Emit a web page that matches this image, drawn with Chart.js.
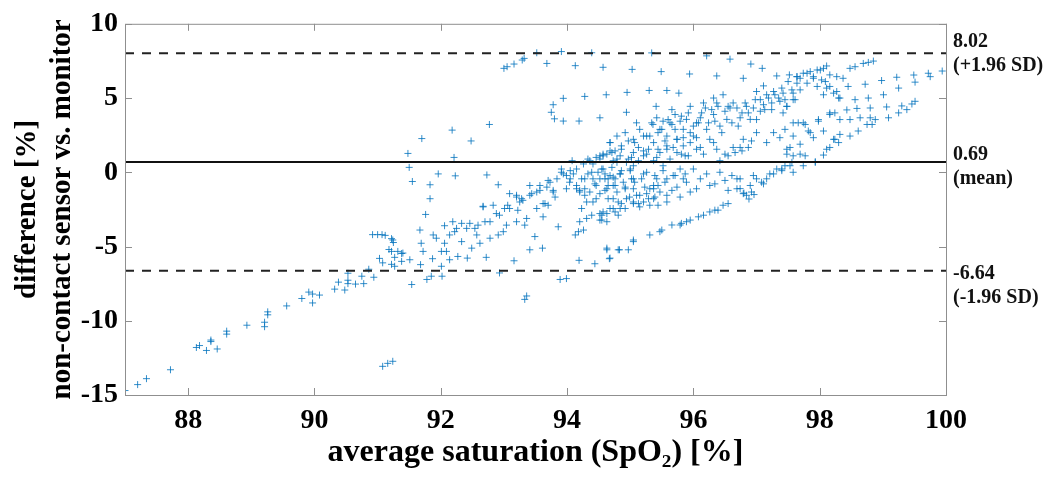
<!DOCTYPE html>
<html>
<head>
<meta charset="utf-8">
<script src="https://cdn.jsdelivr.net/npm/chart.js@4.4.1/dist/chart.umd.min.js"></script>
<style>
  body { margin: 0; background: #fff; }
</style>
</head>
<body>
<canvas id="baChart" width="1058" height="480"></canvas>
<script>
// Bland-Altman points: [average SpO2 %, difference %]
const tailPts = [
  [87.0,-14.7],[87.2,-14.3],[87.34,-13.9],[87.72,-13.3],[88.13,-11.8],[88.18,-11.67],[88.29,-12.0],
  [88.36,-11.3],[88.36,-11.4],[88.46,-11.9],[88.61,-10.7],[88.61,-10.9],[88.93,-10.3],[89.21,-10.1],
  [89.21,-10.4],[89.26,-9.4],[89.26,-9.6],[89.56,-9.0],[89.8,-8.5],[89.91,-8.07],[89.97,-8.2],
  [89.97,-8.8],[90.08,-8.27],[90.32,-7.87],[90.38,-7.4],[90.48,-7.93],[90.53,-6.8],[90.53,-7.27],
  [90.53,-7.5],[90.65,-7.53],[90.75,-7.0],[90.78,-7.5],[90.86,-6.53],[90.94,-7.07],[90.92,-4.2],
  [91.0,-4.2],[91.07,-4.2],[91.12,-4.25],[91.22,-4.47],[91.25,-4.73],[91.18,-5.2],[91.03,-5.8],
  [91.08,-6.1],[91.27,-5.73],[91.32,-5.33],[91.22,-6.2],[91.38,-5.47],[91.08,-13.07],[91.16,-12.87],
  [91.24,-12.73]
];

const upperPts = [
  [93.0,7.0],[93.05,7.11],[93.16,7.29],[93.29,7.56],[93.32,7.67],[93.52,8.05],[93.68,7.33],[93.91,8.13],
  [94.13,7.18],[94.39,8.05],[94.57,7.07],[95.03,6.93],[95.34,8.04],[95.49,6.78],[95.94,6.62],[96.21,7.84],
  [96.58,7.62],[96.37,6.49],[96.79,6.33],[96.91,7.29],[97.09,7.0],[97.11,5.82],[97.0,5.44],[97.32,6.49],
  [97.52,6.56],[97.64,6.44],
  [93.78,4.55],[93.75,4.04],[93.8,3.6],[93.94,4.98],[93.94,3.45],[94.19,3.45],[94.28,5.11],[94.52,3.67],
  [94.62,5.22],[94.95,5.38],[94.94,4.04],[95.3,5.51],[95.58,5.51],[95.41,4.44],[95.77,5.33],[96.32,5.0],
  [96.47,5.22],
  [91.7,2.27],[92.18,2.84],[92.48,2.11],[92.77,3.22],[91.48,1.27],[92.21,1.0],[91.5,0.33],[91.55,-0.62],
  [91.96,-0.11],[92.23,-0.24],[92.73,-0.18],[91.83,-0.84],[92.91,-0.84],[91.83,-1.78],[91.76,-2.84],
  [92.67,-2.29]
];

const lowerBand = [
  [91.24,-4.56],[91.22,-5.33],[91.4,-5.44],[91.38,-6.0],[91.27,-6.33],[91.51,-5.89],[91.54,-7.56],
  [91.67,-3.89],[91.69,-4.78],[91.72,-5.33],[91.68,-6.22],[91.78,-7.22],[91.85,-7.0],[91.87,-5.82],
  [91.93,-4.44],[92.01,-5.33],[92.01,-6.33],[92.02,-7.0],[92.06,-3.6],[92.06,-4.78],[92.14,-5.89],
  [92.19,-3.33],[92.22,-4.0],[92.27,-5.67],[92.33,-3.44],[92.41,-3.78],[92.42,-5.78],[92.46,-3.44],
  [92.49,-5.11],[92.59,-3.56],[92.62,-4.78],[92.67,-2.33],[92.7,-3.33],[92.72,-5.73],[92.78,-4.44],
  [92.83,-2.22],[92.88,-2.78],[92.91,-4.22],[92.93,-6.78],[93.01,-2.44],[93.04,-3.56],[93.06,-2.22],
  [93.09,-1.44],[93.16,-5.96],[93.2,-1.67],[93.22,-2.56],[93.28,-1.78],[93.33,-3.56],[93.36,-3.11],
  [93.36,-8.33],[93.33,-8.56],[93.41,-5.22],[93.41,-0.89],[93.44,-1.44],[93.52,-1.33],[93.49,-4.33],
  [93.62,-3.0],[93.61,-5.11],[93.65,-2.11],[93.7,-2.22],[93.73,-0.67],[93.78,-1.22],[93.81,-1.67],
  [93.86,-3.67],[93.89,-7.22],[93.99,-7.16],[93.91,0.0],[94.05,-0.44],[94.08,0.78],[94.13,-4.22],
  [94.18,-4.0],[94.2,-1.22],[94.23,-2.44],[94.26,-3.89],[94.19,-5.93],[94.28,-0.44],[94.31,-2.0],
  [94.33,-0.11],[94.36,-1.33],[94.39,-2.89],[94.41,0.56],[94.44,-6.16],[94.46,-0.89],[94.49,0.0],
  [94.52,-1.44],[94.55,-3.22],[94.57,1.11],[94.6,-0.44],[94.63,-5.11],[94.65,-1.78],[94.68,2.0],
  [94.68,-5.78],[94.71,0.33],[94.73,-0.89],[94.76,-2.67],[94.79,0.89],[94.81,-2.0],[94.83,-5.22],
  [92.25,-3.78],[92.14,-4.22],[92.54,-3.78],[92.78,-3.33],[92.93,-2.89],[93.09,-2.44],[93.25,-2.0],
  [93.41,-1.55],[93.57,-1.22],[93.68,-1.0],[93.84,-0.44],[93.94,-0.11],[94.05,0.11],[94.15,0.22],
  [94.26,0.56],[94.36,0.78],[94.46,1.0],[94.57,1.22],[94.68,1.44],[93.99,-1.11],[94.15,-0.89],
  [94.28,-1.11],[94.41,-0.44],[94.46,-1.78],[94.63,-1.11],[94.76,-0.44],[94.2,-3.33],[94.31,-3.11],
  [94.57,-2.67],[94.68,-2.44],[91.88,-4.22],[92.09,-5.33],[92.33,-4.67],[92.57,-4.22],[92.99,-4.0],
  [93.2,-3.33],[93.52,-2.44]
];

const coreUpper = [
  [94.68,2.0],[94.79,2.44],[94.92,2.67],[95.05,2.22],[95.15,2.89],[95.26,2.44],[95.36,3.22],[95.44,2.67],
  [95.52,3.44],[95.58,2.44],[95.66,3.22],[95.71,3.89],[95.74,2.22],[95.84,2.89],[95.89,3.56],[95.95,4.44],
  [96.0,2.44],[96.08,3.33],[96.13,4.0],[96.16,4.67],[96.21,2.89],[96.29,4.22],[96.34,3.44],[96.39,4.44],
  [96.45,2.67],[96.53,3.56],[96.58,4.33],[96.63,4.67],[96.71,3.11],[96.77,4.0],[96.84,4.44],[96.9,3.56],
  [96.98,4.89],[97.06,4.11],[97.11,4.55],[97.19,5.0],[97.24,4.22],[97.29,5.22],[97.37,4.78],[97.42,5.33],
  [97.48,4.44],[97.56,5.55],[97.64,6.0],[97.61,4.89],
  [94.52,0.89],[94.63,1.22],[94.73,0.78],[94.84,1.11],[94.94,0.67],[95.02,1.0],[95.05,0.44],[95.21,1.11],
  [95.29,1.55],[95.37,0.78],[95.47,1.33],[95.58,1.55],[95.63,0.89],[95.74,1.33],[95.84,1.78],[95.92,1.11],
  [96.05,1.55],[96.16,1.22],[96.32,2.0],[96.42,0.78],[96.55,1.11],[96.66,1.33],[96.74,1.67],[96.79,2.22],
  [96.92,2.11],[97.0,2.67],[97.16,2.0],[97.27,2.67],[97.37,2.33],[97.45,2.89],[97.53,1.67],[97.58,2.44],
  [97.66,3.33],
  [95.1,3.33],[95.21,2.44],[95.34,3.33],[95.42,3.67],[95.5,2.89],[95.6,3.55],[95.66,4.22],[95.71,2.89],
  [95.79,3.44],[95.84,2.33],[95.92,4.0],[96.0,3.11],[96.05,2.33],[96.11,3.67],[96.19,4.33],[96.24,3.33],
  [96.32,3.89],[96.37,4.67],[96.42,3.11],[96.5,4.11],[96.55,4.44],[96.61,3.33],[96.69,4.33],[96.74,3.67],
  [96.82,4.67],[96.87,4.0],[96.95,4.33],[97.0,3.55],[97.06,4.89],[97.13,4.22],[97.16,5.22],[97.24,4.67],
  [97.27,5.44],[97.35,5.0],[97.4,5.67],[97.45,4.89],[97.5,6.11],[97.58,5.33],[97.69,6.33],[97.8,6.67],
  [97.9,6.44],[98.01,6.89],[98.09,6.11],[98.16,5.78],[98.27,5.44],[98.32,5.0],
  [94.76,1.44],[94.86,1.78],[94.97,2.11],[95.05,1.33],[95.13,1.67],[95.26,1.22],[95.37,2.0],[95.44,1.55],
  [95.55,2.11],[95.68,1.67],[95.81,1.22],[95.95,2.0],[96.11,1.67],[96.26,2.22],[96.37,1.55],[96.5,1.22],
  [96.63,1.67],[96.77,1.44],[96.87,1.67]
];

const coreLower = [
  [94.52,-0.44],[94.6,-0.11],[94.65,-0.89],[94.73,-0.33],[94.79,-1.33],[94.86,0.11],[94.89,-0.67],
  [94.94,-1.78],[95.02,-0.44],[95.05,-1.11],[95.13,-2.11],[95.18,-0.44],[95.26,-1.44],[95.31,-1.11],
  [95.37,-1.78],[95.39,-0.22],[95.44,-0.89],[95.52,0.11],[95.58,-0.44],[95.66,-1.22],[95.79,0.22],
  [95.79,-1.67],[95.89,-0.67],[96.05,-1.11],[96.21,-0.11],[96.34,-0.78],[96.5,-0.55],[96.55,-1.22],
  [96.74,-0.44],[96.79,-1.44],[96.84,-1.55],[96.92,-1.33],[96.95,-0.22],[97.08,-0.67],[97.16,-0.44],
  [97.27,-0.11],[97.4,0.11],[97.53,0.44],[96.69,-0.44],[97.11,-0.78],
  [94.52,-3.22],[94.63,-2.78],[94.73,-2.44],[94.86,-2.11],[94.99,-1.67],[95.15,-2.33],[95.31,-2.22],
  [95.44,-2.22],[95.31,-4.22],[95.47,-4.0],[95.5,-3.89],[95.66,-3.55],[95.81,-3.44],[95.95,-3.22],
  [96.08,-3.0],[96.26,-2.67],[96.39,-2.55],[96.47,-2.22],[95.05,-4.67],[95.05,-4.56],[94.63,-5.22],
  [94.81,-5.22],[94.97,-5.22],[94.67,-5.82],[96.74,-1.1],[96.8,-1.4],[96.88,-1.8],[96.96,-1.5],
  [94.57,0.22],[94.68,-0.22],[94.76,-0.89],[94.84,-0.11],[94.92,-1.11],[95.0,0.11],[95.07,-0.67],
  [95.1,-1.55],[95.21,-0.11],[95.23,-1.0],[95.29,-1.78],[95.42,-0.44],[95.47,-1.33],[95.55,-0.67],
  [95.71,-0.22],[95.74,-1.0],[95.87,-0.11],[95.95,-1.33],[96.11,-0.44],[96.26,-0.89],[96.42,0.0],
  [96.61,-0.22],[96.69,-1.11],[96.9,-0.89],[97.0,-0.44],[97.21,-0.11],[97.32,0.22],[97.45,0.44],
  [94.81,-2.89],[94.92,-2.44],[95.05,-2.11],[95.21,-2.0],[95.39,-1.67],[95.58,-2.0],[95.79,-3.55],
  [95.89,-3.33],[96.16,-2.89],[96.34,-2.55],[96.55,-2.11],[94.63,-3.33],[94.55,-2.89]
];

const densePts = [
  [93.91,0.22],[93.99,-0.22],[94.04,-0.67],[94.1,-0.11],[94.15,-1.11],[94.23,-0.44],[94.28,-1.55],
  [94.33,0.89],[94.39,0.0],[94.44,-0.78],[94.52,1.11],[94.55,0.22],[94.6,-1.22],[94.65,-0.44],
  [94.71,1.33],[94.73,-1.78],[94.79,0.67],[94.84,-0.11],[94.86,1.55],[94.92,-1.0],[94.97,0.89],
  [95.0,0.22],[95.05,-0.44],[95.07,2.0],[95.13,0.78],[95.15,-1.55],[95.21,1.44],[95.26,0.0],
  [95.31,2.44],[95.37,-0.89],[95.42,1.0],[95.47,2.89],[95.52,0.44],[95.58,1.78],[95.63,3.33],
  [95.68,-0.22],[95.74,2.22],[95.81,3.78],[95.87,1.11],[95.95,2.67],[96.0,0.22],[96.05,3.33],
  [93.2,-1.55],[93.3,-1.89],[93.57,-0.89],[93.7,-0.55],[93.78,-1.33],[93.62,-2.11],[94.2,-1.33],
  [94.41,-2.0],[94.52,-2.78],[94.84,-2.44],[95.05,-2.0],[95.37,-1.11],[95.58,-1.55],[95.84,-0.44]
];

const rightPts = [
  [97.64,6.44],[97.74,6.67],[97.85,6.78],[97.96,6.89],[98.06,7.0],[98.11,7.16],[97.9,6.33],[98.03,6.22],
  [98.16,6.56],[98.27,6.44],[98.37,6.33],[97.8,6.0],[97.96,5.78],[98.11,5.67],[98.22,5.33],[98.3,5.0],
  [97.69,5.55],[97.58,4.89],[97.48,4.44],[98.06,5.22],[98.45,5.78],[97.42,4.0],
  [98.48,7.0],[98.56,7.11],[98.69,7.33],[98.77,7.4],[98.85,7.49],[98.72,5.93],[98.98,6.18],[99.22,6.4],
  [99.25,5.67],[99.49,6.55],[99.51,6.07],[99.72,6.67],[99.75,6.44],[99.94,6.82],[99.01,5.22],[98.56,4.89],
  [98.77,5.0],
  [98.43,4.2],[98.59,4.3],[98.8,4.33],[99.06,4.4],[99.3,4.47],[99.46,4.6],[99.51,4.78],[99.25,4.0],
  [99.38,4.22],[99.09,3.67],
  [97.58,3.33],[97.77,3.22],[97.98,3.44],[98.16,3.89],[98.24,4.0],[97.82,2.78],[98.06,2.78],[97.9,2.33],
  [98.48,3.55],[98.64,3.67],[98.8,3.67],[98.88,3.55],[98.75,3.22],[98.83,3.22],[98.61,2.78],[98.48,2.44],
  [98.32,2.55],[98.24,2.22],[98.3,2.0],[98.16,1.67],[98.11,1.55],[98.06,1.16],[97.77,1.11],[97.93,0.71],
  [97.48,1.22],[97.56,0.67],[97.4,0.22],[97.58,0.0],[97.74,0.44],[97.93,0.67],
  [97.74,3.33],[97.85,2.67],[97.98,3.55],[98.16,4.0],[98.22,2.22],[98.32,3.55],[97.69,1.89],[97.48,1.55],
  [97.58,1.11],[97.69,1.22]
];

const meanDiff = 0.69;
const upperLoA = 8.02;
const lowerLoA = -6.64;
const xRange = [87, 100];
const xTicks = [88, 90, 92, 94, 96, 98, 100];
const yTicks = [-15, -10, -5, 0, 5, 10];

const serif = "'Liberation Serif', 'Times New Roman', serif";

const scatterData = [].concat(tailPts, upperPts, lowerBand, coreUpper, coreLower, densePts, rightPts)
  .map(p => ({ x: p[0], y: p[1] }));

function hLine(v) {
  return xRange.map(x => ({ x: x, y: v }));
}

// box with inward ticks + value labels on the right, MATLAB style
const framePlugin = {
  id: 'frame',
  afterDatasetsDraw(chart) {
    const { ctx, chartArea: a, scales } = chart;
    ctx.save();
    ctx.strokeStyle = '#8f8f8f';
    ctx.lineWidth = 1;
    ctx.strokeRect(a.left + 0.5, a.top + 0.5, a.right - a.left, a.bottom - a.top);
    ctx.beginPath();
    xTicks.forEach(v => {
      const px = Math.round(scales.x.getPixelForValue(v)) + 0.5;
      ctx.moveTo(px, a.bottom); ctx.lineTo(px, a.bottom - 7);
      ctx.moveTo(px, a.top); ctx.lineTo(px, a.top + 7);
    });
    yTicks.forEach(v => {
      const py = Math.round(scales.y.getPixelForValue(v)) + 0.5;
      ctx.moveTo(a.left, py); ctx.lineTo(a.left + 7, py);
      ctx.moveTo(a.right, py); ctx.lineTo(a.right - 7, py);
    });
    ctx.stroke();

    ctx.fillStyle = '#111';
    ctx.font = 'bold 20px ' + serif;
    ctx.textBaseline = 'middle';
    ctx.textAlign = 'left';
    const labels = [
      { v: upperLoA, lines: [upperLoA.toFixed(2), '(+1.96 SD)'], dy: -11 },
      { v: meanDiff, lines: [meanDiff.toFixed(2), '(mean)'], dy: -7 },
      { v: lowerLoA, lines: [lowerLoA.toFixed(2), '(-1.96 SD)'], dy: 3 }
    ];
    labels.forEach(l => {
      const py = scales.y.getPixelForValue(l.v) + l.dy;
      ctx.fillText(l.lines[0], a.right + 7, py);
      ctx.fillText(l.lines[1], a.right + 7, py + 24);
    });
    ctx.restore();
  }
};

new Chart(document.getElementById('baChart').getContext('2d'), {
  type: 'scatter',
  data: {
    datasets: [
      {
        data: hLine(upperLoA), showLine: true, pointRadius: 0, borderColor: '#222',
        borderWidth: 2, borderDash: [9, 8], order: 0
      },
      {
        data: hLine(meanDiff), showLine: true, pointRadius: 0, borderColor: '#111',
        borderWidth: 2, order: 0
      },
      {
        data: hLine(lowerLoA), showLine: true, pointRadius: 0, borderColor: '#222',
        borderWidth: 2, borderDash: [9, 8], order: 0
      },
      {
        data: scatterData, pointStyle: 'cross', pointRadius: 3.5, borderWidth: 1,
        borderColor: 'rgba(0, 114, 189, 0.8)', backgroundColor: 'rgba(0, 114, 189, 0.8)', order: 1
      }
    ]
  },
  options: {
    responsive: false,
    animation: false,
    layout: { padding: { top: 20, right: 112, left: 0, bottom: 0 } },
    plugins: { legend: { display: false }, tooltip: { enabled: false } },
    scales: {
      x: {
        type: 'linear', min: xRange[0], max: xRange[1],
        afterBuildTicks: s => { s.ticks = xTicks.map(v => ({ value: v })); },
        afterFit: s => { s.height = 85; },
        grid: { display: false, drawTicks: false },
        border: { display: false },
        ticks: { font: { family: serif, size: 28, weight: 'bold' }, color: '#000', padding: 9, maxRotation: 0 },
        title: {
          display: true, text: 'average saturation (SpO\u2082) [%]', color: '#000',
          font: { family: serif, size: 32, weight: 'bold' }, padding: { top: 0, bottom: 8 }
        }
      },
      y: {
        type: 'linear', min: -15, max: 10,
        afterBuildTicks: s => { s.ticks = yTicks.map(v => ({ value: v })); },
        afterFit: s => { s.width = 125; },
        grid: { display: false, drawTicks: false },
        border: { display: false },
        ticks: { font: { family: serif, size: 28, weight: 'bold' }, color: '#000', padding: 7 },
        title: {
          display: true, text: ['difference [%]', 'non-contact sensor vs. monitor'], color: '#000',
          font: { family: serif, size: 29, weight: 'bold', lineHeight: 1.2 }, padding: { top: 10, bottom: 0 }
        }
      }
    }
  },
  plugins: [framePlugin]
});
</script>
</body>
</html>
